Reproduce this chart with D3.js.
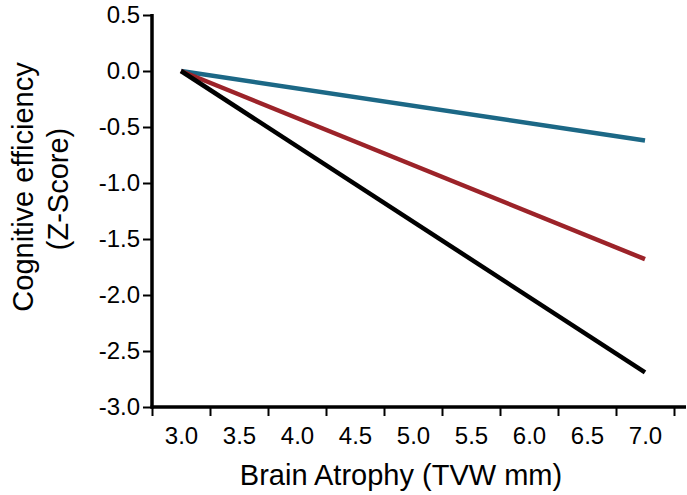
<!DOCTYPE html>
<html>
<head>
<meta charset="utf-8">
<script src="https://cdn.jsdelivr.net/npm/d3@7"></script>
<style>
	body { margin: 0; background: #fff; }
	svg { display: block; font-family: "Liberation Sans", Arial, sans-serif; }
</style>
</head>
<body>
<svg id="chart" width="687" height="495"></svg>
<script>
// Chart data
const xLabels = [3.0, 3.5, 4.0, 4.5, 5.0, 5.5, 6.0, 6.5, 7.0];
const xMinorTicks = [2.75, 3.25, 3.75, 4.25, 4.75, 5.25, 5.75, 6.25, 6.75, 7.25];
const yTicks = [-3.0, -2.5, -2.0, -1.5, -1.0, -0.5, 0.0, 0.5];
const seriesNames = ["blue", "red", "black"];
const seriesColors = ["#1c6886", "#9c2329", "#000000"];
const atrophy = [3.0, 7.0];
const blueValues = [0.0, -0.62];
const redValues = [0.0, -1.68];
const blackValues = [0.0, -2.69];

const series = [blueValues, redValues, blackValues];

let svg = d3.select("#chart");

// Scales
let x = d3.scaleLinear().domain([2.75, 7.25]).range([152, 674]);
let y = d3.scaleLinear().domain([-3, 0.5]).range([407, 15]);

// Lines (black drawn last, it sits on top at the common start point)
let line = d3.line()
	.x(d => x(d[0]))
	.y(d => y(d[1]));

series.forEach((vals, i) => {
	svg.append("path")
		.datum(atrophy.map((a, j) => [a, vals[j]]))
		.attr("fill", "none")
		.attr("stroke", seriesColors[i])
		.attr("stroke-width", 4.5)
		.attr("d", line);
});

// Y axis
let yAxis = svg.append("g")
	.attr("transform", "translate(152,0)")
	.call(d3.axisLeft(y).tickValues(yTicks).tickSize(9).tickPadding(3).tickFormat(d => d.toFixed(1)));
yAxis.select(".domain").remove();
yAxis.selectAll("line").attr("stroke-width", 2);
yAxis.selectAll("text").attr("font-size", 24).attr("fill", "#000").attr("font-family", null);
yAxis.append("line")
	.attr("x1", 0).attr("x2", 0)
	.attr("y1", 14).attr("y2", 408.5)
	.attr("stroke", "#000").attr("stroke-width", 3.5);

// X axis: minor ticks without labels, labels without ticks
let xAxis = svg.append("g")
	.attr("transform", "translate(0,407)")
	.call(d3.axisBottom(x).tickValues(xMinorTicks).tickSize(9).tickFormat(""));
xAxis.select(".domain").remove();
xAxis.selectAll("line").attr("stroke-width", 2);
xAxis.append("line")
	.attr("x1", 150.5).attr("x2", 686)
	.attr("y1", 0).attr("y2", 0)
	.attr("stroke", "#000").attr("stroke-width", 3.5);

let xLab = svg.append("g")
	.attr("transform", "translate(0,407)")
	.call(d3.axisBottom(x).tickValues(xLabels).tickSize(0).tickPadding(20).tickFormat(d => d.toFixed(1)));
xLab.select(".domain").remove();
xLab.selectAll("text").attr("font-size", 24).attr("fill", "#000").attr("font-family", null);

// Axis titles
svg.append("text")
	.attr("x", 401)
	.attr("y", 485)
	.attr("text-anchor", "middle")
	.attr("font-size", 29)
	.text("Brain Atrophy (TVW mm)");

svg.append("text")
	.attr("transform", "translate(33,187) rotate(-90)")
	.attr("text-anchor", "middle")
	.attr("font-size", 29)
	.text("Cognitive efficiency");

svg.append("text")
	.attr("transform", "translate(68,189) rotate(-90)")
	.attr("text-anchor", "middle")
	.attr("font-size", 29)
	.text("(Z-Score)");
</script>
</body>
</html>
